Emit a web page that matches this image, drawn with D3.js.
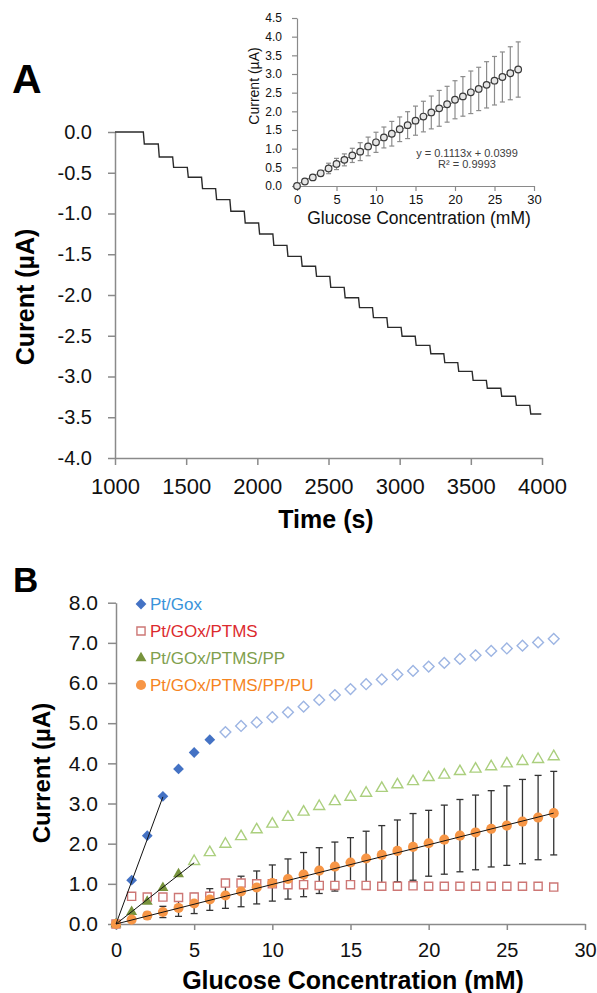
<!DOCTYPE html>
<html>
<head>
<meta charset="utf-8">
<script src="https://cdn.jsdelivr.net/npm/d3@7"></script>
<style>
body { margin: 0; background: #fff; }
svg text { font-family: "Liberation Sans", Arial, sans-serif; }
</style>
</head>
<body>
<div id="chart"></div>
<script>
// ---- Panel A: current vs time, one glucose addition per step ----
var traceTimes = [1000, 3995]
var stepTimes = [1199, 1304, 1405, 1508, 1608, 1707, 1807, 1908, 2009, 2109, 2208, 2308, 2409, 2509,
  2610, 2711, 2809, 2910, 3010, 3109, 3212, 3310, 3408, 3509, 3609, 3710, 3813, 3914]
var stepLevels = [-0.147, -0.307, -0.434, -0.556, -0.695, -0.830, -0.973, -1.117, -1.252, -1.391,
  -1.526, -1.648, -1.771, -1.906, -2.033, -2.155, -2.278, -2.397, -2.507, -2.618,
  -2.720, -2.830, -2.937, -3.047, -3.145, -3.243, -3.354, -3.460]
var timeTicks = [1000, 1500, 2000, 2500, 3000, 3500, 4000]
var currentTicksA = [0, -0.5, -1, -1.5, -2, -2.5, -3, -3.5, -4]

// ---- Panel A inset: calibration ----
var insetConc = [0, 1, 2, 3, 4, 5, 6, 7, 8, 9, 10, 11, 12, 13, 14, 15, 16, 17, 18, 19, 20, 21, 22, 23, 24, 25, 26, 27, 28]
var insetCurrent = [0, 0.12, 0.23, 0.34, 0.47, 0.59, 0.70, 0.82, 0.92, 1.06, 1.17, 1.30, 1.40, 1.52, 1.63,
  1.75, 1.86, 1.97, 2.08, 2.19, 2.31, 2.40, 2.51, 2.60, 2.71, 2.82, 2.92, 3.02, 3.12]
var insetErr = [0, 0.03, 0.05, 0.08, 0.14, 0.15, 0.16, 0.19, 0.24, 0.25, 0.27, 0.28, 0.33, 0.33, 0.36,
  0.39, 0.41, 0.44, 0.48, 0.48, 0.51, 0.53, 0.57, 0.58, 0.62, 0.65, 0.67, 0.71, 0.74]
var insetFit = [0.1113, 0.0399]
var insetXTicks = [0, 5, 10, 15, 20, 25, 30]
var insetYTicks = [0, 0.5, 1, 1.5, 2, 2.5, 3, 3.5, 4, 4.5]

// ---- Panel B: four electrodes ----
var concB = [0, 1, 2, 3, 4, 5, 6, 7, 8, 9, 10, 11, 12, 13, 14, 15, 16, 17, 18, 19, 20, 21, 22, 23, 24, 25, 26, 27, 28]
var seriesNames = ["Pt/Gox", "Pt/GOx/PTMS", "Pt/GOx/PTMS/PP", "Pt/GOx/PTMS/PP/PU"]
var ptGox = [0, 1.09, 2.20, 3.18, 3.86, 4.27, 4.59, 4.78, 4.93, 5.02, 5.15, 5.27, 5.41, 5.58, 5.70,
  5.85, 5.97, 6.09, 6.21, 6.30, 6.41, 6.50, 6.60, 6.69, 6.80, 6.86, 6.93, 7.01, 7.10]
var ptPtms = [0, 0.69, 0.67, 0.67, 0.66, 0.67, 0.69, 1.02, 1.02, 1.00, 1.00, 0.98, 0.98, 0.96, 0.96,
  0.98, 0.96, 0.94, 0.94, 0.95, 0.94, 0.94, 0.94, 0.94, 0.94, 0.94, 0.94, 0.94, 0.92]
var ptPp = [0, 0.30, 0.56, 0.90, 1.24, 1.56, 1.78, 1.99, 2.18, 2.35, 2.49, 2.66, 2.79, 2.93, 3.05,
  3.16, 3.26, 3.38, 3.47, 3.55, 3.65, 3.71, 3.80, 3.86, 3.92, 3.99, 4.05, 4.10, 4.17]
var ptPu = [0, 0.11, 0.21, 0.30, 0.40, 0.51, 0.61, 0.71, 0.81, 0.91, 1.02, 1.12, 1.23, 1.33, 1.43,
  1.53, 1.63, 1.72, 1.82, 1.92, 2.01, 2.10, 2.20, 2.28, 2.37, 2.45, 2.55, 2.65, 2.76]
var ptPuErr = [0, 0.05, 0.08, 0.14, 0.21, 0.25, 0.27, 0.32, 0.38, 0.41, 0.45, 0.50, 0.55, 0.57, 0.61,
  0.62, 0.68, 0.73, 0.77, 0.83, 0.82, 0.86, 0.90, 0.93, 0.95, 0.99, 1.05, 1.05, 1.04]
// points used in the linear fits (filled markers), and the fitted slopes
var filledCount = [7, 29, 5, 29]
var fitSeries = [0, 2, 3]
var fitEnd = [3, 5, 28]
var fitSlope = [1.055, 0.305, 0.0986]
var concTicksB = [0, 5, 10, 15, 20, 25, 30]
var currentTicksB = [0, 1, 2, 3, 4, 5, 6, 7, 8]

var W = 597, H = 993
var axisColor = "#8a8a8a"

var svg = d3.select("#chart").append("svg")
  .attr("width", W)
  .attr("height", H)
svg.append("rect").attr("width", W).attr("height", H).attr("fill", "#fff")

function styleAxis(g, size) {
  g.attr("font-family", null).attr("font-size", null)
  g.select(".domain").attr("stroke", axisColor).attr("stroke-width", 1.5)
  g.selectAll(".tick line").attr("stroke", axisColor).attr("stroke-width", 1.5)
  g.selectAll(".tick text").style("font-size", size + "px").attr("fill", "#111")
}

function fmt1(d) { return d.toFixed(1) }
function fmt0(d) { return String(d) }

// ================= Panel A =================
var xA = d3.scaleLinear().domain([1000, 4000]).range([115, 542])
var yA = d3.scaleLinear().domain([-4, 0]).range([458, 132])

svg.append("g").attr("transform", "translate(0," + yA(-4) + ")")
  .call(d3.axisBottom(xA).tickValues(timeTicks).tickSize(7).tickSizeOuter(0).tickPadding(13).tickFormat(fmt0))
  .call(styleAxis, 22)
svg.append("g").attr("transform", "translate(" + xA(1000) + ",0)")
  .call(d3.axisLeft(yA).tickValues(currentTicksA).tickSize(7).tickSizeOuter(0).tickPadding(16).tickFormat(fmt1))
  .call(styleAxis, 20)

// build the step trace from the addition times and plateau levels
var tracePts = [[traceTimes[0], 0]]
var prev = 0
for (var i = 0; i < stepTimes.length; i++) {
  tracePts.push([stepTimes[i], prev])
  tracePts.push([stepTimes[i] + 7, stepLevels[i]])
  prev = stepLevels[i]
}
tracePts.push([traceTimes[1], prev])

var traceLine = d3.line()
  .x(function(d) { return xA(d[0]) })
  .y(function(d) { return yA(d[1]) })
svg.append("path")
  .attr("d", traceLine(tracePts))
  .attr("fill", "none")
  .attr("stroke", "#2b2b2b")
  .attr("stroke-width", 1.4)

svg.append("text").attr("x", 12).attr("y", 93)
  .text("A").style("font-size", "41px").style("font-weight", "bold")
svg.append("text").attr("x", 326).attr("y", 528)
  .attr("text-anchor", "middle")
  .text("Time (s)").style("font-size", "25px").style("font-weight", "bold")
svg.append("text")
  .attr("transform", "translate(34,297) rotate(-90)")
  .attr("text-anchor", "middle")
  .text("Curent (\u00b5A)").style("font-size", "25px").style("font-weight", "bold")

// ---- inset ----
var xI = d3.scaleLinear().domain([0, 30]).range([297, 534])
var yI = d3.scaleLinear().domain([0, 4.5]).range([186, 18])
var inset = svg.append("g")

inset.append("g").attr("transform", "translate(0," + yI(0) + ")")
  .call(d3.axisBottom(xI).tickValues(insetXTicks).tickSize(5).tickSizeOuter(0).tickPadding(4))
  .call(styleAxis, 13)
inset.append("g").attr("transform", "translate(" + xI(0) + ",0)")
  .call(d3.axisLeft(yI).tickValues(insetYTicks).tickSize(5).tickSizeOuter(0).tickPadding(10).tickFormat(fmt1))
  .call(styleAxis, 12)
inset.selectAll(".domain, .tick line").attr("stroke-width", 1.2)

inset.append("line")
  .attr("x1", xI(0)).attr("y1", yI(insetFit[1]))
  .attr("x2", xI(28)).attr("y2", yI(insetFit[0] * 28 + insetFit[1]))
  .attr("stroke", "#555").attr("stroke-width", 0.8)

var insetBars = inset.append("g").attr("stroke", "#8c8c8c").attr("stroke-width", 1.2)
insetConc.forEach(function(c, i) {
  if (insetErr[i] <= 0) return
  var x = xI(c), y1 = yI(insetCurrent[i] - insetErr[i]), y2 = yI(insetCurrent[i] + insetErr[i])
  insetBars.append("line").attr("x1", x).attr("x2", x).attr("y1", y1).attr("y2", y2)
  insetBars.append("line").attr("x1", x - 2.5).attr("x2", x + 2.5).attr("y1", y1).attr("y2", y1)
  insetBars.append("line").attr("x1", x - 2.5).attr("x2", x + 2.5).attr("y1", y2).attr("y2", y2)
})
inset.selectAll("circle.pt").data(insetConc).enter().append("circle")
  .attr("class", "pt")
  .attr("cx", function(d) { return xI(d) })
  .attr("cy", function(d, i) { return yI(insetCurrent[i]) })
  .attr("r", 3.3)
  .attr("fill", "#e6e6e6")
  .attr("stroke", "#3a3a3a")
  .attr("stroke-width", 1.2)

inset.append("text").attr("x", 467).attr("y", 157).attr("text-anchor", "middle")
  .text("y = 0.1113x + 0.0399").style("font-size", "11px").attr("fill", "#404040")
inset.append("text").attr("x", 467).attr("y", 168).attr("text-anchor", "middle")
  .text("R\u00b2 = 0.9993").style("font-size", "11px").attr("fill", "#404040")
inset.append("text").attr("x", 419).attr("y", 224).attr("text-anchor", "middle")
  .text("Glucose Concentration (mM)").style("font-size", "17.5px").attr("fill", "#111")
inset.append("text")
  .attr("transform", "translate(259,86) rotate(-90)")
  .attr("text-anchor", "middle")
  .text("Current (\u00b5A)").style("font-size", "14px").attr("fill", "#111")

// ================= Panel B =================
var xB = d3.scaleLinear().domain([0, 30]).range([116, 585])
var yB = d3.scaleLinear().domain([0, 8]).range([924, 602.7])

svg.append("g").attr("transform", "translate(0," + yB(0) + ")")
  .call(d3.axisBottom(xB).tickValues(concTicksB).tickSize(6).tickSizeOuter(0).tickPadding(13))
  .call(styleAxis, 20)
svg.append("g").attr("transform", "translate(" + xB(0) + ",0)")
  .call(d3.axisLeft(yB).tickValues(currentTicksB).tickSize(8).tickSizeOuter(0).tickPadding(10).tickFormat(fmt1))
  .call(styleAxis, 21)

var seriesVals = [ptGox, ptPtms, ptPp, ptPu]
var fillCol = ["#4472c4", "#ffffff", "#77933c", "#f79646"]
var openCol = ["#9db5e3", "#cd7775", "#abcf7e", "#f79646"]
var textCol = ["#3a93da", "#dc2a2e", "#80a04e", "#f5841f"]
var shapes = [d3.symbolSquare, d3.symbolSquare, d3.symbolTriangle, d3.symbolCircle]
var sizes = [58, 66, 52, 80]
var rotations = [45, 0, 0, 0]

function marker(g, s, filled, x, y) {
  var p = g.append("path")
    .attr("d", d3.symbol().type(shapes[s]).size(sizes[s])())
    .attr("transform", "translate(" + x + "," + y + ") rotate(" + rotations[s] + ")")
  if (s == 1 || !filled) {
    p.attr("fill", "#fff").attr("stroke", openCol[s]).attr("stroke-width", 1.4)
  } else {
    p.attr("fill", fillCol[s])
  }
  return p
}

// error bars for the PU electrode
var barsB = svg.append("g").attr("stroke", "#333").attr("stroke-width", 1.3)
concB.forEach(function(c, i) {
  if (ptPuErr[i] <= 0) return
  var x = xB(c), y1 = yB(ptPu[i] - ptPuErr[i]), y2 = yB(ptPu[i] + ptPuErr[i])
  barsB.append("line").attr("x1", x).attr("x2", x).attr("y1", y1).attr("y2", y2)
  barsB.append("line").attr("x1", x - 3.5).attr("x2", x + 3.5).attr("y1", y1).attr("y2", y1)
  barsB.append("line").attr("x1", x - 3.5).attr("x2", x + 3.5).attr("y1", y2).attr("y2", y2)
})

var marks = svg.append("g")
seriesVals.forEach(function(vals, s) {
  concB.forEach(function(c, i) {
    marker(marks, s, i < filledCount[s], xB(c), yB(vals[i]))
  })
})

// fitted lines over the linear range
fitSeries.forEach(function(s, k) {
  svg.append("line")
    .attr("x1", xB(0)).attr("y1", yB(0))
    .attr("x2", xB(fitEnd[k])).attr("y2", yB(fitSlope[k] * fitEnd[k]))
    .attr("stroke", "#111").attr("stroke-width", 1)
})

// legend
var legendY = [604, 631, 658, 685]
seriesNames.forEach(function(name, s) {
  marker(svg, s, true, 141, legendY[s])
  svg.append("text").attr("x", 150).attr("y", legendY[s] + 6)
    .text(name).style("font-size", "17px").attr("fill", textCol[s])
})

svg.append("text").attr("x", 13).attr("y", 592)
  .text("B").style("font-size", "35px").style("font-weight", "bold")
svg.append("text").attr("x", 353).attr("y", 989)
  .attr("text-anchor", "middle")
  .text("Glucose Concentration (mM)").style("font-size", "25px").style("font-weight", "bold")
svg.append("text")
  .attr("transform", "translate(50,773) rotate(-90)")
  .attr("text-anchor", "middle")
  .text("Current (\u00b5A)").style("font-size", "24px").style("font-weight", "bold")
</script>
</body>
</html>
